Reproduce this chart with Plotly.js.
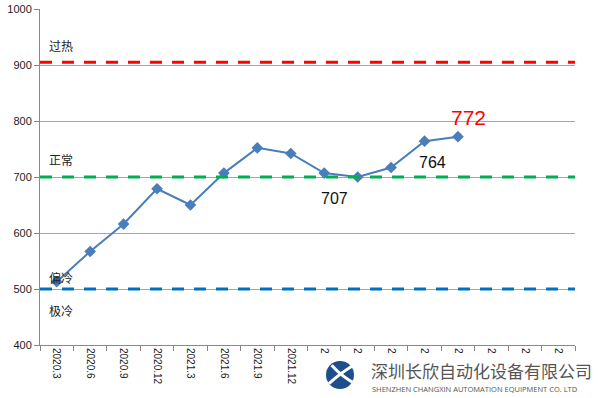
<!DOCTYPE html>
<html>
<head>
<meta charset="utf-8">
<script src="https://cdn.plot.ly/plotly-3.0.1.min.js"></script>
<style>html,body{margin:0;padding:0;background:#fff;}#chart{width:600px;height:398px;}</style>
</head>
<body>
<div id="chart"></div>
<script>
// Categories (quarters) and displayed tick labels
const categories = ['2020.3','2020.6','2020.9','2020.12','2021.3','2021.6','2021.9','2021.12',
                    '2022.3','2022.6','2022.9','2022.12','2023.3','2023.6','2023.9','2023.12'];
const tickLabels = ['2020.3','2020.6','2020.9','2020.12','2021.3','2021.6','2021.9','2021.12',
                    '2','2','2','2','2','2','2','2'];
// Measured series (only first 13 quarters have data)
const seriesX = categories.slice(0, 13);
const seriesValues = [513, 567, 616, 679, 650, 707, 752, 742, 707, 700, 717, 764, 772];
// Threshold levels
const levelNames = ['过热', '正常', '偏冷', '极冷'];
const levelValues = {hot: 905, normal: 700, cold: 500};
// Highlighted value labels
const labelIdx = [8, 11, 12];
const labelText = ['707', '764', '772'];

const traces = [{
  x: seriesX, y: seriesValues, type: 'scatter', mode: 'lines+markers',
  line: {color: '#4A7EBB', width: 2},
  marker: {symbol: 'diamond', size: 9, color: '#4A7EBB'},
  hoverinfo: 'skip', showlegend: false
}];

const dashStyle = '12px,10px';
const shapes = [
  {type:'line', xref:'paper', x0:0, x1:1, yref:'y', y0:levelValues.hot, y1:levelValues.hot,
   line:{color:'#FF0000', width:3, dash:dashStyle}, layer:'above'},
  {type:'line', xref:'paper', x0:0, x1:1, yref:'y', y0:levelValues.normal, y1:levelValues.normal,
   line:{color:'#00B050', width:3, dash:dashStyle}, layer:'above'},
  {type:'line', xref:'paper', x0:0, x1:1, yref:'y', y0:levelValues.cold, y1:levelValues.cold,
   line:{color:'#0070C0', width:3, dash:dashStyle}, layer:'above'},
  // logo circle
  {type:'circle', xref:'paper', yref:'paper', x0:0.5346, x1:0.5869, y0:-0.131, y1:-0.0476,
   fillcolor:'#1F4E8C', line:{width:0}},
  {type:'path', xref:'paper', yref:'paper',
   path:'M 0.540 -0.115 Q 0.560 -0.085 0.586 -0.060', line:{color:'#ffffff', width:3}},
  {type:'path', xref:'paper', yref:'paper',
   path:'M 0.545 -0.060 Q 0.565 -0.095 0.592 -0.118', line:{color:'#ffffff', width:3}}
];

const cjk = '"Noto Sans CJK SC", "Noto Sans", sans-serif';
const annotations = [
  {xref:'paper', yref:'y', x:0.0393, y:935, text:levelNames[0]},
  {xref:'paper', yref:'y', x:0.0393, y:731, text:levelNames[1]},
  {xref:'paper', yref:'y', x:0.0393, y:521, text:levelNames[2]},
  {xref:'paper', yref:'y', x:0.0393, y:461, text:levelNames[3]}
].map(a => Object.assign(a, {showarrow:false, xanchor:'center', yanchor:'middle',
  font:{family:cjk, size:12, color:'#222'}}));

labelIdx.forEach((idx, k) => {
  const isRed = k === 2;
  annotations.push({
    x: idx, y: seriesValues[idx], xref:'x', yref:'y', text: labelText[k],
    showarrow:false, xanchor:'center', yanchor:'middle',
    xshift: isRed ? 11 : (k === 0 ? 10 : 8),
    yshift: isRed ? 19 : (k === 0 ? -25 : -21),
    font:{family:'"Liberation Sans", Arial, sans-serif', size: isRed ? 21 : 16,
          color: isRed ? '#FF0000' : '#111'}
  });
});

// watermark text
annotations.push({xref:'paper', yref:'paper', x:0.615, y:-0.077, xanchor:'left', yanchor:'middle',
  text:'深圳长欣自动化设备有限公司', showarrow:false,
  font:{family:cjk, size:17, color:'#555'}});
annotations.push({xref:'paper', yref:'paper', x:0.616, y:-0.132, xanchor:'left', yanchor:'middle',
  text:'SHENZHEN CHANGXIN AUTOMATION EQUIPMENT CO. LTD', showarrow:false,
  font:{family:'"Open Sans", sans-serif', size:7.5, color:'#555'}});

const layout = {
  width:600, height:398,
  margin:{l:40, r:25, t:9, b:53},
  paper_bgcolor:'#fff', plot_bgcolor:'#fff',
  showlegend:false,
  xaxis:{
    type:'category', categoryorder:'array', categoryarray:categories,
    tickvals:categories, ticktext:tickLabels, tickangle:90,
    range:[-0.5, categories.length - 0.5],
    tickson:'boundaries', ticks:'outside', ticklen:5, tickcolor:'#888',
    showline:true, linecolor:'#888', linewidth:1, showgrid:false, zeroline:false,
    tickfont:{family:'"Liberation Sans", Arial, sans-serif', size:10, color:'#222'},
    fixedrange:true
  },
  yaxis:{
    range:[400, 1000], dtick:100, tick0:400,
    ticks:'outside', ticklen:5, tickcolor:'#888',
    showline:true, linecolor:'#888', linewidth:1,
    showgrid:true, gridcolor:'#A6A6A6', gridwidth:1, zeroline:false,
    tickfont:{family:'"Liberation Sans", Arial, sans-serif', size:11, color:'#222'},
    fixedrange:true
  },
  shapes: shapes,
  annotations: annotations
};

Plotly.newPlot('chart', traces, layout, {staticPlot:true, displayModeBar:false});
</script>
</body>
</html>
